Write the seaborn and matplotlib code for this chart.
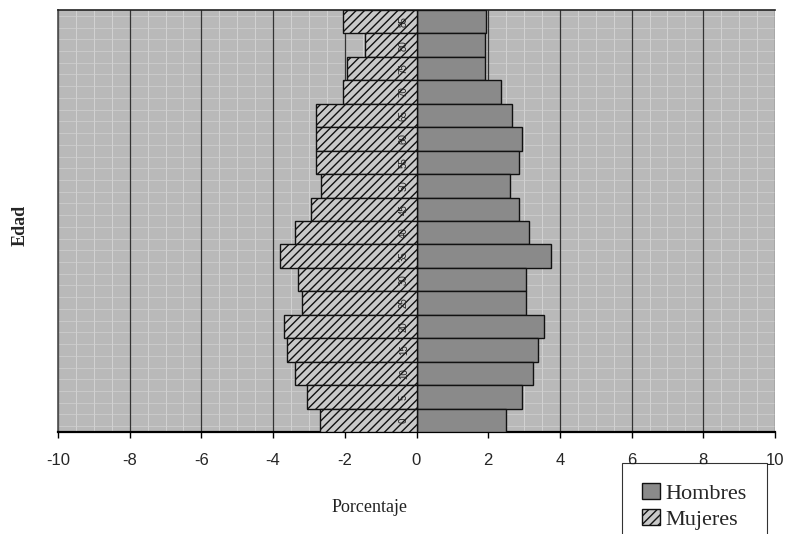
import matplotlib
matplotlib.use("Agg")
import matplotlib.pyplot as plt
import seaborn as sns
import pandas as pd
from matplotlib.patches import Patch

# ---- data ----
edades = ['0', '5', '10', '15', '20', '25', '30', '35', '40', '45',
          '50', '55', '60', '65', '70', '75', '80', '85']
hombres = [2.5, 2.95, 3.25, 3.4, 3.55, 3.05, 3.05, 3.75, 3.15, 2.85,
           2.6, 2.85, 2.95, 2.65, 2.35, 1.9, 1.9, 1.95]
mujeres = [-2.7, -3.05, -3.4, -3.6, -3.7, -3.2, -3.3, -3.8, -3.4, -2.95,
           -2.65, -2.8, -2.8, -2.8, -2.05, -1.95, -1.45, -2.05]
xticks = [-10, -8, -6, -4, -2, 0, 2, 4, 6, 8, 10]

sns.set_theme(style="white")
plt.rcParams['font.family'] = ['Liberation Sans', 'DejaVu Sans']

df = pd.DataFrame({
    'Edad': edades * 2,
    'Porcentaje': hombres + mujeres,
    'Sexo': ['Hombres'] * len(edades) + ['Mujeres'] * len(edades),
})
order = edades[::-1]

fig = plt.figure(figsize=(7.88, 5.34), dpi=100)
ax = fig.add_axes([58 / 788, 1 - 432 / 534, (775 - 58) / 788, (432 - 10) / 534])
ax.set_facecolor('#b9b9b9')

sns.barplot(data=df, x='Porcentaje', y='Edad', hue='Sexo', order=order,
            hue_order=['Hombres', 'Mujeres'], dodge=False, width=1.0,
            palette={'Hombres': '#8a8a8a', 'Mujeres': '#c9c9c9'},
            edgecolor='#111111', linewidth=1.0, orient='h', ax=ax,
            legend=False, zorder=3)

n = len(edades)
for p in ax.patches:
    if p.get_width() < 0:
        p.set_hatch('////')
        p.set_facecolor('#c9c9c9')

ax.set_xlim(-10, 10)
ax.set_ylim(n - 0.5, -0.5)
ax.set_xticks(xticks)
ax.set_xticklabels([str(t) for t in xticks], fontsize=12)
ax.tick_params(axis='x', length=4, width=1, color='black', pad=11, bottom=True)
ax.set_yticks([])
ax.set_ylabel('')
ax.set_xlabel('')

# light texture grid and major dark gridlines
for xv in [x / 2 for x in range(-20, 21)]:
    ax.axvline(xv, color='#d6d6d6', lw=0.6, zorder=1)
for yv in range(n):
    ax.axhline(yv - 0.25, color='#d0d0d0', lw=0.5, zorder=1)
    ax.axhline(yv + 0.25, color='#d0d0d0', lw=0.5, zorder=1)
for xv in xticks:
    ax.axvline(xv, color='#333333', lw=0.9, zorder=2)

# category labels next to zero (rotated, as in the original)
for e in edades:
    yi = order.index(e)
    ax.text(-0.35, yi, e, rotation=90, ha='center', va='center',
            fontsize=7, color='#222222', zorder=5)

ax.spines['right'].set_visible(False)
ax.spines['top'].set_color('#222222')
ax.spines['top'].set_linewidth(1.2)
ax.spines['left'].set_color('#555555')
ax.spines['bottom'].set_color('black')
ax.spines['bottom'].set_linewidth(1.6)

fig.text(20 / 788, 1 - 225 / 534, 'Edad', rotation=90, ha='center', va='center',
         fontsize=13, fontweight='bold', family=['Liberation Serif', 'DejaVu Serif'])
fig.text(370 / 788, 1 - 508 / 534, 'Porcentaje', ha='center', va='center',
         fontsize=13, family=['Liberation Serif', 'DejaVu Serif'], color='#222222')

handles = [Patch(facecolor='#8a8a8a', edgecolor='#111111', label='Hombres'),
           Patch(facecolor='#c9c9c9', edgecolor='#111111', hatch='////', label='Mujeres')]
leg = fig.legend(handles=handles, loc='upper left', bbox_to_anchor=(622 / 788, 1 - 463 / 534),
                 borderaxespad=0, frameon=True, fancybox=False, edgecolor='black',
                 handlelength=0.8, handleheight=0.7, handletextpad=0.25, borderpad=0.9,
                 labelspacing=0.25,
                 prop={'family': ['Liberation Serif', 'DejaVu Serif'], 'size': 16})
leg.get_frame().set_linewidth(0.8)

fig.savefig('out.png', dpi=100)
